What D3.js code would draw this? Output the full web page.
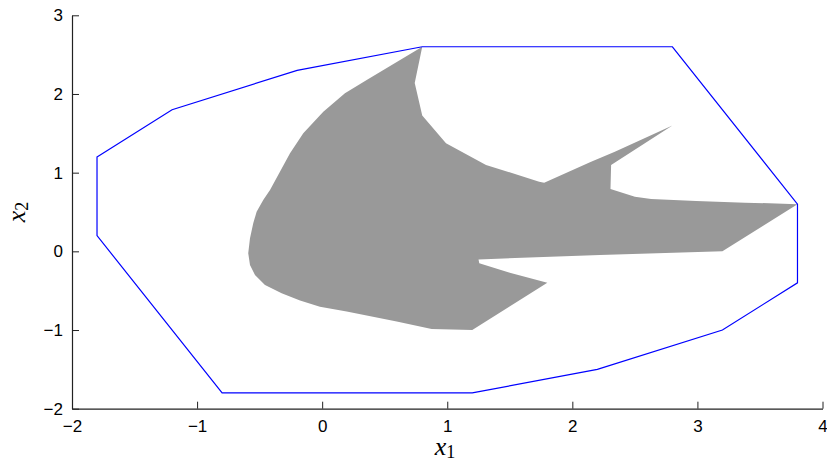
<!DOCTYPE html>
<html>
<head>
<meta charset="utf-8">
<script src="https://cdn.jsdelivr.net/npm/d3@7"></script>
<style>
  html, body { margin: 0; padding: 0; background: #fff; }
  svg { display: block; }
  .tick text { font-family: "Liberation Sans", Arial, sans-serif; font-size: 17px; fill: #000; }
  .axis-label { font-family: "Liberation Serif", "DejaVu Serif", serif; font-style: italic; font-size: 26px; fill: #000; }
</style>
</head>
<body>
<svg id="chart" width="827" height="461"></svg>
<script>
// Outer polygon (blue outline) vertices, [x1, x2]
const outerX1 = [-1.8, -1.2, -0.2, 0.8, 2.8, 3.8, 3.8, 3.2, 2.2, 1.2, -0.8, -1.8];
const outerX2 = [1.2, 1.8, 2.3, 2.6, 2.6, 0.6, -0.4, -1.0, -1.5, -1.8, -1.8, 0.2];

// Inner region (grey fill) vertices, [x1, x2]
const regionX1 = [0.80, 0.74, 0.80, 0.99, 1.31, 1.735, 1.775, 2.15, 2.34, 2.80, 2.31, 2.305,
                  2.50, 2.63, 2.99, 3.38, 3.80, 3.20, 2.22, 1.25, 1.256, 1.50, 1.80, 1.20,
                  0.875, 0.596, 0.196, -0.018, -0.177, -0.324, -0.457, -0.537, -0.577, -0.591,
                  -0.577, -0.551, -0.524, -0.471, -0.417, -0.257, -0.151, 0.009, 0.182, 0.356];
const regionX2 = [2.60, 2.14, 1.727, 1.374, 1.098, 0.886, 0.873, 1.14, 1.267, 1.60, 1.098, 0.793,
                  0.695, 0.666, 0.640, 0.619, 0.60, 0.0, -0.046, -0.103, -0.151, -0.271, -0.40, -1.0,
                  -0.986, -0.893, -0.766, -0.703, -0.626, -0.532, -0.427, -0.30, -0.173, -0.024,
                  0.166, 0.357, 0.504, 0.653, 0.780, 1.247, 1.501, 1.775, 2.009, 2.178];

// Axis ticks
const xTicks = [-2, -1, 0, 1, 2, 3, 4];
const yTicks = [-2, -1, 0, 1, 2, 3];

const svg = d3.select("#chart");
const x = d3.scaleLinear().domain([-2, 4]).range([72, 822.5]);
const y = d3.scaleLinear().domain([-2, 3]).range([408.7, 15.3]);

const line = d3.line().x(d => x(d[0])).y(d => y(d[1]));

const region = regionX1.map((v, i) => [v, regionX2[i]]);
svg.append("path")
  .attr("d", line(region) + "Z")
  .attr("fill", "#999999")
  .attr("stroke", "none");

const outer = outerX1.map((v, i) => [v, outerX2[i]]);
svg.append("path")
  .attr("d", line(outer) + "Z")
  .attr("fill", "none")
  .attr("stroke", "#0000ff")
  .attr("stroke-width", 1.2)
  .attr("stroke-linejoin", "miter");

const fmt = d3.format("");
const xAxis = svg.append("g")
  .attr("transform", `translate(0,${y(-2)})`)
  .call(d3.axisBottom(x).tickValues(xTicks).tickFormat(fmt)
    .tickSizeInner(-7).tickSizeOuter(0).tickPadding(11.5));
const yAxis = svg.append("g")
  .attr("transform", `translate(${x(-2)},0)`)
  .call(d3.axisLeft(y).tickValues(yTicks).tickFormat(fmt)
    .tickSizeInner(-7).tickSizeOuter(0).tickPadding(9));

[xAxis, yAxis].forEach(g => {
  g.select(".domain").attr("stroke", "#222").attr("stroke-width", 1.2);
  g.selectAll(".tick line").attr("stroke", "#222").attr("stroke-width", 1);
  g.attr("font-family", null).attr("font-size", null);
});

// Axis titles with subscripts
const xl = svg.append("text").attr("class", "axis-label")
  .attr("x", 445).attr("y", 455).attr("text-anchor", "middle");
xl.append("tspan").text("x");
xl.append("tspan").attr("font-size", "18px").attr("font-style", "normal").attr("dy", 3).text("1");

const yl = svg.append("text").attr("class", "axis-label")
  .attr("transform", "translate(25,212) rotate(-90)")
  .attr("text-anchor", "middle");
yl.append("tspan").text("x");
yl.append("tspan").attr("font-size", "18px").attr("font-style", "normal").attr("dy", 3).text("2");
</script>
</body>
</html>
